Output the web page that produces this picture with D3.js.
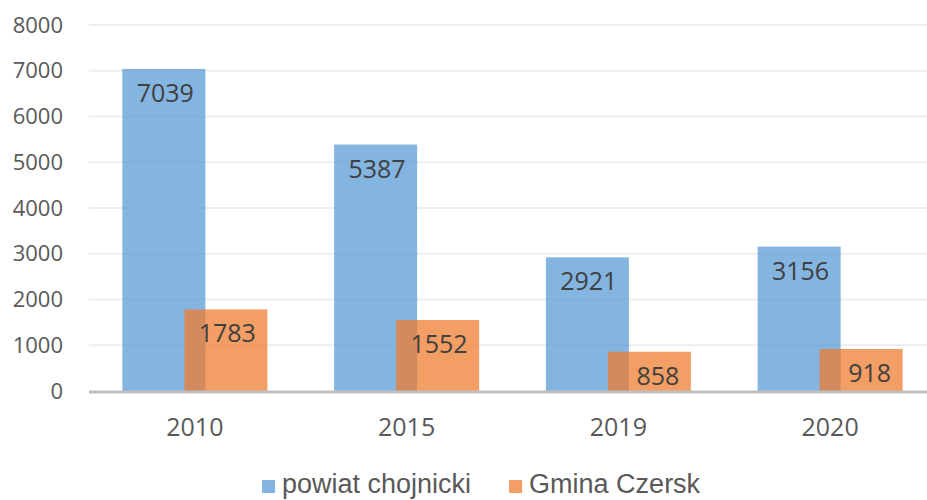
<!DOCTYPE html>
<html>
<head>
<meta charset="utf-8">
<script src="https://cdn.jsdelivr.net/npm/d3@7"></script>
<style>
  html, body { margin: 0; padding: 0; background: #fff; }
  svg { display: block; }
</style>
</head>
<body>
<svg id="chart"></svg>
<script>
// dane
const years = ['2010', '2015', '2019', '2020']
const seriesNames = ['powiat chojnicki', 'Gmina Czersk']
const powiatValues = [7039, 5387, 2921, 3156]
const gminaValues = [1783, 1552, 858, 918]
const yTicks = [0, 1000, 2000, 3000, 4000, 5000, 6000, 7000, 8000]

const width = 927
const height = 500
const colors = ['#5B9BD5', '#ED7D31']
const barOpacity = 0.75
const barWidth = 83

const svg = d3.select('#chart').attr('width', width).attr('height', height)

const x = d3.scaleBand().domain(years).range([89, 936]).padding(0)
const xSub = d3.scalePoint().domain(seriesNames).range([-31, 31])
const y = d3.scaleLinear().domain([0, 8000]).range([391, 25])

// linie siatki
svg.append('g').attr('class', 'grid')
  .selectAll('line').data(yTicks.filter(d => d > 0))
  .enter().append('line')
  .attr('x1', 89).attr('x2', width)
  .attr('y1', d => y(d)).attr('y2', d => y(d))
  .attr('stroke', '#EDEDED').attr('stroke-width', 2)

// oś Y - tylko etykiety
const yAxis = d3.axisLeft(y).tickValues(yTicks).tickFormat(d3.format('d')).tickSize(0).tickPadding(0)
const yAxisG = svg.append('g').attr('transform', 'translate(63,0)').call(yAxis)
yAxisG.select('.domain').remove()
yAxisG.selectAll('text')
  .attr('font-family', 'Open Sans, sans-serif')
  .attr('font-size', 22)
  .attr('fill', '#595959')

const series = [
  { name: seriesNames[0], values: powiatValues, color: colors[0] },
  { name: seriesNames[1], values: gminaValues, color: colors[1] }
]

// słupki
series.forEach(s => {
  const g = svg.append('g').attr('class', 'bars')
  g.selectAll('rect').data(years)
    .enter().append('rect')
    .attr('x', (d, i) => x(d) + x.bandwidth() / 2 + xSub(s.name) - barWidth / 2)
    .attr('width', barWidth)
    .attr('y', (d, i) => y(s.values[i]))
    .attr('height', (d, i) => y(0) - y(s.values[i]))
    .attr('fill', s.color)
    .attr('fill-opacity', barOpacity)
})

// etykiety wartości
series.forEach(s => {
  svg.append('g').selectAll('text').data(years)
    .enter().append('text')
    .attr('x', (d, i) => x(d) + x.bandwidth() / 2 + xSub(s.name) + 30)
    .attr('y', (d, i) => y(s.values[i]) + 33)
    .attr('text-anchor', 'end')
    .attr('font-family', 'Open Sans, sans-serif')
    .attr('font-size', 25)
    .attr('fill', '#404040')
    .text((d, i) => s.values[i])
})

// oś X
svg.append('line')
  .attr('x1', 89).attr('x2', width)
  .attr('y1', y(0) + 1).attr('y2', y(0) + 1)
  .attr('stroke', '#BFBFBF').attr('stroke-width', 3)

const xAxis = d3.axisBottom(x).tickSize(0).tickPadding(0)
const xAxisG = svg.append('g').call(xAxis)
xAxisG.select('.domain').remove()
xAxisG.selectAll('text')
  .attr('y', 436)
  .attr('dy', null)
  .attr('font-family', 'Open Sans, sans-serif')
  .attr('font-size', 25)
  .attr('fill', '#595959')

// legenda
const legend = svg.append('g').attr('class', 'legend')
let lx = 262
series.forEach(s => {
  legend.append('rect')
    .attr('x', lx).attr('y', 480)
    .attr('width', 13).attr('height', 13)
    .attr('fill', s.color).attr('fill-opacity', barOpacity)
  const t = legend.append('text')
    .attr('x', lx + 20).attr('y', 493)
    .attr('font-family', 'Liberation Sans, Arial, sans-serif')
    .attr('font-size', 27)
    .attr('fill', '#595959')
    .text(s.name)
  lx += 20 + t.node().getComputedTextLength() + 38
})
</script>
</body>
</html>
